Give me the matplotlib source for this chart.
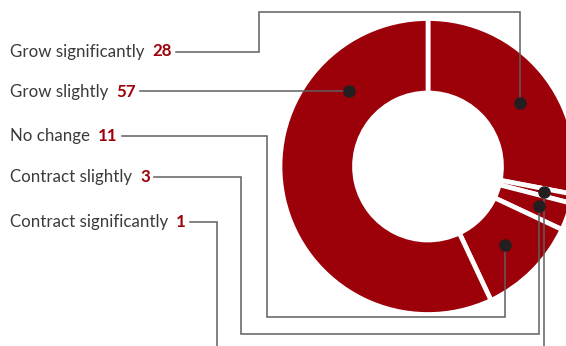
import numpy as np
import matplotlib.pyplot as plt

plt.rcParams['font.family'] = ['Lato', 'DejaVu Sans']

# pie order, clockwise from 12 o'clock
categories = ["Grow significantly", "Contract significantly", "Contract slightly",
              "No change", "Grow slightly"]
values = [28, 1, 3, 11, 57]

# label order down the left side
label_order = ["Grow significantly", "Grow slightly", "No change",
               "Contract slightly", "Contract significantly"]

RED = "#9c0008"
TEXT = "#3b3b3b"
LINE = "#5f5f5f"
DOT = "#231f20"

W, H = 566, 346
fig = plt.figure(figsize=(W / 100, H / 100), dpi=100)
ax = fig.add_axes([0, 0, 1, 1])

cx, cy = 428, H - 166.5
R_out = 148
ring = 74.5

ax.pie(values, startangle=90, counterclock=False, colors=[RED] * len(values),
       radius=R_out, center=(cx, cy),
       wedgeprops=dict(width=ring, edgecolor="white", linewidth=3.4))
ax.set_xlim(0, W)
ax.set_ylim(0, H)
ax.set_aspect("equal")
ax.axis("off")

# where each leader dot sits inside its wedge: (fraction along wedge, radius)
dot_spot = {
    "Grow significantly": (0.55, 112),
    "Contract significantly": (0.5, 119),
    "Contract slightly": (0.5, 118),
    "No change": (0.51, 110),
    "Grow slightly": (0.775, 109),
}
total = sum(values)
cum = np.concatenate([[0], np.cumsum(values)]) / total
dots = {}
for i, name in enumerate(categories):
    a0 = 90 - 360 * cum[i]
    a1 = 90 - 360 * cum[i + 1]
    f, r = dot_spot[name]
    a = np.radians(a0 + f * (a1 - a0))
    dots[name] = (cx + r * np.cos(a), cy + r * np.sin(a))

# label rows (pixel y from top) and elbow routes for the leader lines
label_y = {"Grow significantly": 51.5, "Grow slightly": 92, "No change": 136,
           "Contract slightly": 177, "Contract significantly": 222}
route = {
    "Grow significantly": [(259, None), (259, 12), ("dot", 12)],
    "Grow slightly": [],
    "No change": [(267, None), (267, 317), ("dot", 317)],
    "Contract slightly": [(241, None), (241, 334), ("dot", 334)],
    "Contract significantly": [(217, None), (217, 365), ("dot", 365)],
}

fig.canvas.draw()
renderer = fig.canvas.get_renderer()
vals = dict(zip(categories, values))
for name in label_order:
    y = H - label_y[name]
    t = ax.text(10, y, name, color=TEXT, fontsize=12.2, va="center", ha="left")
    bb = t.get_window_extent(renderer)
    x_num = bb.x1 + 8
    n = ax.text(x_num, y, str(vals[name]), color=RED, fontsize=12.2,
                fontweight="bold", va="center", ha="left")
    bb2 = n.get_window_extent(renderer)
    dx, dy = dots[name]
    xs = [bb2.x1 + 4]
    ys = [y]
    if not route[name]:
        xs.append(dx)
        ys.append(dy)
        ys[0] = dy
    else:
        for px, py in route[name]:
            xs.append(dx if px == "dot" else px)
            ys.append(y if py is None else H - py)
        xs.append(dx)
        ys.append(dy)
    ax.plot(xs, ys, color=LINE, lw=1.1, solid_joinstyle="miter", zorder=3)
    ax.plot(dx, dy, "o", ms=8, color=DOT, zorder=4)

fig.savefig("out.png", dpi=100)
